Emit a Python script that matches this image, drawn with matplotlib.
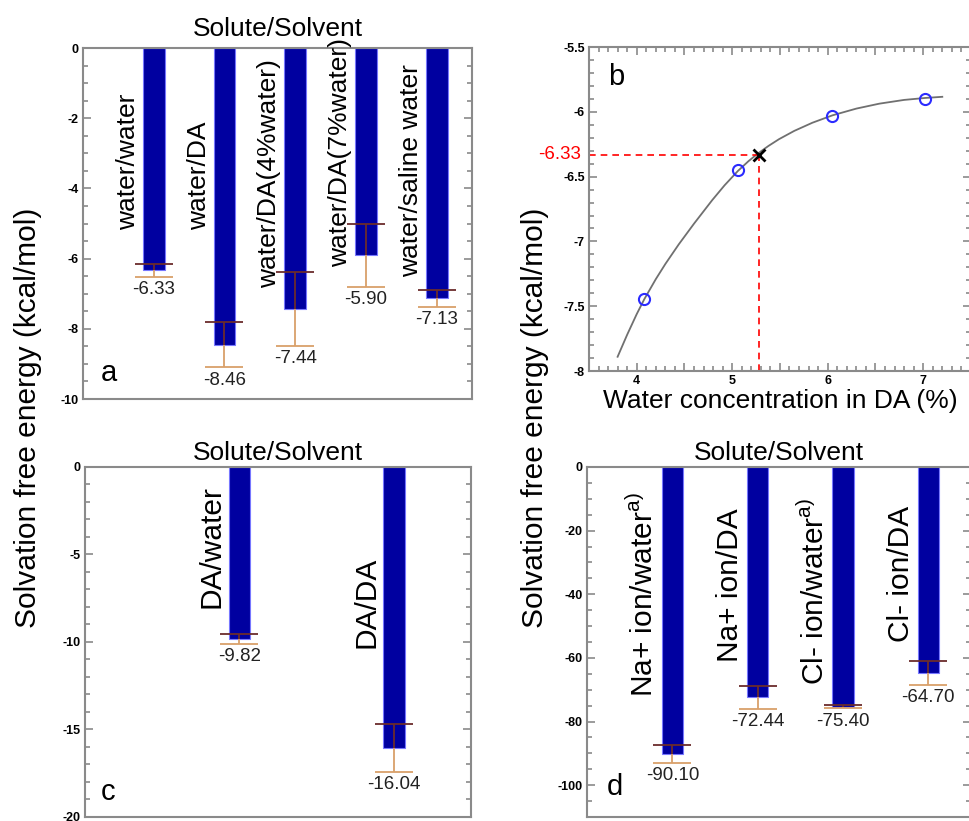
import numpy as np
import matplotlib
matplotlib.use('Agg')
import matplotlib.pyplot as plt
from matplotlib.ticker import MultipleLocator

plt.rcParams['font.family'] = ['Liberation Sans', 'DejaVu Sans']
plt.rcParams['mathtext.fontset'] = 'custom'
plt.rcParams['mathtext.rm'] = 'Liberation Sans'
plt.rcParams['axes.unicode_minus'] = False

# panel a: water solute
a_labels = ['water/water', 'water/DA', 'water/DA(4%water)', 'water/DA(7%water)', 'water/saline water']
a_vals = [-6.33, -8.46, -7.44, -5.90, -7.13]
a_err = [0.18, 0.64, 1.05, 0.90, 0.25]
a_text_y = [-5.18, -5.18, -6.84, -6.23, -6.52]

# panel b: solvation energy vs water content
b_conc = [4.08, 5.06, 6.05, 7.02]
b_energy = [-7.445, -6.45, -6.03, -5.90]
# fitted curve
fit_x = [3.80, 3.90, 4.00, 4.08, 4.20, 4.30, 4.44, 4.60, 4.79, 4.92, 5.06, 5.17,
         5.27, 5.38, 5.49, 5.65, 5.84, 6.05, 6.30, 6.54, 6.80, 7.02, 7.20]
fit_y = [-7.89, -7.72, -7.561, -7.445, -7.291, -7.174, -7.023, -6.863, -6.682, -6.567,
         -6.456, -6.381, -6.321, -6.263, -6.211, -6.147, -6.084, -6.027, -5.975, -5.937,
         -5.908, -5.893, -5.884]
b_target = -6.33
b_target_x = 5.28

# panel c: DA solute
c_labels = ['DA/water', 'DA/DA']
c_vals = [-9.82, -16.04]
c_err = [0.27, 1.38]
c_text_y = [-8.06, -10.34]

# panel d: ions
d_labels = [r'Na+ ion/water$^{\mathrm{a)}}$', 'Na+ ion/DA', r'Cl- ion/water$^{\mathrm{a)}}$', 'Cl- ion/DA']
d_vals = [-90.10, -72.44, -75.40, -64.70]
d_err = [2.8, 3.7, 0.5, 3.8]
d_text_y = [-72.3, -61.3, -68.6, -55.0]

BAR = '#0000a0'
TAN = '#d9a06a'
DARK = '#6b2c2c'
SPINE = '#8a8a8a'


def style(ax, yticks, minor, ylim):
    for s in ax.spines.values():
        s.set_color(SPINE)
        s.set_linewidth(1.5)
    ax.set_ylim(ylim)
    ax.set_yticks(yticks)
    ax.set_yticklabels(['%g' % t for t in yticks], fontweight='bold', fontsize=9)
    ax.yaxis.set_minor_locator(MultipleLocator(minor))
    ax.tick_params(which='both', direction='in', color=SPINE, width=1.2, pad=3,
                   left=True, right=True)
    ax.tick_params(which='major', length=6)
    ax.tick_params(which='minor', length=3.5)


def bar_panel(ax, labels, vals, errs, text_y, width, fs_lab):
    pos = np.arange(1, len(vals) + 1)
    zeros = np.zeros(len(errs))
    ax.bar(pos, vals, width, color=BAR, edgecolor='#7777ff', linewidth=0.8, zorder=2)
    # lower half of the error bar (outside the bar) and upper half (over the bar)
    _, caps, _ = ax.errorbar(pos, vals, yerr=[errs, zeros], fmt='none', ecolor=TAN,
                             elinewidth=1.3, capsize=14, capthick=1.3, zorder=3)
    caps[1].set_visible(False)
    _, caps, _ = ax.errorbar(pos, vals, yerr=[zeros, errs], fmt='none', ecolor=DARK,
                             elinewidth=1.3, capsize=14, capthick=1.3, zorder=3)
    caps[0].set_visible(False)
    for p, v, e, lab, ty in zip(pos, vals, errs, labels, text_y):
        ax.annotate(lab, (p - width / 2, ty), xytext=(-2, 0), textcoords='offset points',
                    rotation=90, ha='right', va='bottom', fontsize=fs_lab)
        ax.annotate('%.2f' % v, (p, v - e), xytext=(0, -3), textcoords='offset points',
                    ha='center', va='top', fontsize=13.5, color='#222222')
    ax.set_xlim(0, len(vals) + 0.5)
    ax.set_xticks([])


fig = plt.figure(figsize=(9.69, 8.21), dpi=100)

ax_a = fig.add_axes([0.0857, 0.514, 0.4014, 0.4275])
ax_b = fig.add_axes([0.6078, 0.5481, 0.3942, 0.3946])
ax_c = fig.add_axes([0.0877, 0.0049, 0.3983, 0.4263])
ax_d = fig.add_axes([0.6058, 0.0049, 0.3963, 0.4263])

# a
bar_panel(ax_a, a_labels, a_vals, a_err, a_text_y, 0.31, 19)
style(ax_a, np.arange(-10, 0.1, 2), 0.5, (-10, 0))
ax_a.set_title('Solute/Solvent', fontsize=19, pad=9)
ax_a.text(0.045, 0.075, 'a', transform=ax_a.transAxes, fontsize=21, va='center')

# c
bar_panel(ax_c, c_labels, c_vals, c_err, c_text_y, 0.14, 21.5)
style(ax_c, np.arange(-20, 0.1, 5), 1, (-20, 0))
ax_c.set_title('Solute/Solvent', fontsize=19, pad=5)
ax_c.text(0.04, 0.071, 'c', transform=ax_c.transAxes, fontsize=21, va='center')

# d
bar_panel(ax_d, d_labels, d_vals, d_err, d_text_y, 0.25, 21.5)
style(ax_d, np.arange(-100, 0.1, 20), 5, (-110, 0))
ax_d.set_title('Solute/Solvent', fontsize=19, pad=5)
ax_d.text(0.052, 0.086, 'd', transform=ax_d.transAxes, fontsize=21, va='center')

# b
b_xlim = (3.5, 7.5)
b_ylim = (-8, -5.5)
ax_b.plot(fit_x, fit_y, color='#707070', lw=1.3, zorder=2)
ax_b.plot(b_conc, b_energy, 'o', mfc='none', mec='#2b2bff', ms=8, mew=1.5, zorder=3)
ax_b.hlines(b_target, b_xlim[0], b_target_x, colors='red', linestyles=(0, (4, 3)), lw=1.2)
ax_b.vlines(b_target_x, b_ylim[0], b_target, colors='red', linestyles=(0, (4, 3)), lw=1.2)
ax_b.plot(b_target_x, b_target, 'x', color='black', ms=8, mew=2, zorder=4)
ax_b.set_xlim(b_xlim)
style(ax_b, np.arange(-8, -5.49, 0.5), 0.1, b_ylim)
xt = np.arange(3.5, 7.51, 0.5)
ax_b.set_xticks(xt)
ax_b.set_xticklabels(['%d' % t if t % 1 == 0 else '' for t in xt], fontweight='bold', fontsize=9)
ax_b.xaxis.set_minor_locator(MultipleLocator(0.1))
ax_b.tick_params(which='both', top=True, bottom=True)
ax_b.set_xlabel('Water concentration in DA (%)', fontsize=19, labelpad=1)
ax_b.annotate('-6.33', xy=(0, b_target), xycoords=('axes fraction', 'data'),
              xytext=(-6, 0), textcoords='offset points', ha='right', va='center',
              color='red', fontsize=13.5)
ax_b.text(0.05, 0.907, 'b', transform=ax_b.transAxes, fontsize=21, va='center')

# shared y labels
fig.text(28 / 969, 1 - 418 / 821, 'Solvation free energy (kcal/mol)', rotation=90,
         ha='center', va='center', fontsize=21.5)
fig.text(535 / 969, 1 - 418 / 821, 'Solvation free energy (kcal/mol)', rotation=90,
         ha='center', va='center', fontsize=21.5)

fig.savefig('out.png', dpi=100)
